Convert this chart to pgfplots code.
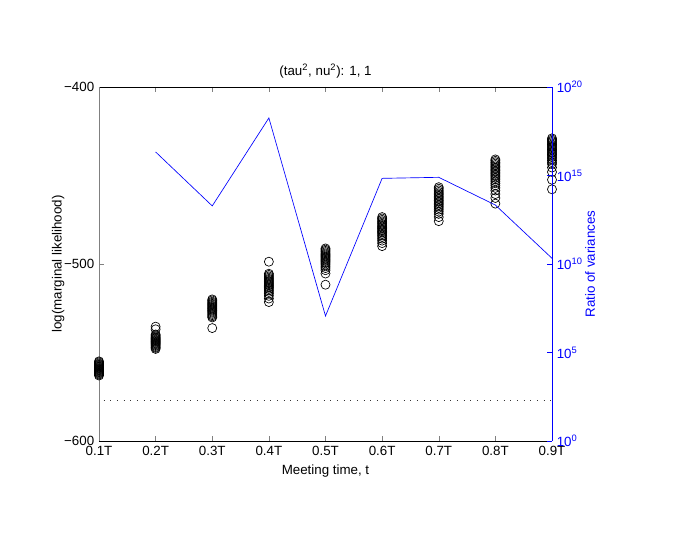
\documentclass[border=0pt]{standalone}
\usepackage{pgfplots}
\pgfplotsset{compat=1.18}
\usepackage{fontspec}
\setmainfont{Liberation Sans}

% log marginal likelihood, several runs per meeting time
\pgfplotstableread{
t y
1 -555.0
1 -555.5
1 -556.1
1 -556.6
1 -557.0
1 -557.4
1 -557.8
1 -558.1
1 -558.5
1 -558.9
1 -559.2
1 -559.6
1 -560.0
1 -560.3
1 -560.7
1 -561.1
1 -561.5
1 -562.0
1 -562.5
1 -563.0
2 -535.4
2 -536.9
2 -539.8
2 -540.3
2 -540.9
2 -541.4
2 -541.9
2 -542.3
2 -542.8
2 -543.2
2 -543.6
2 -544.0
2 -544.5
2 -544.9
2 -545.3
2 -545.8
2 -546.3
2 -546.9
2 -547.4
2 -548.0
3 -520.0
3 -520.6
3 -521.3
3 -521.9
3 -522.5
3 -523.0
3 -523.6
3 -524.1
3 -524.7
3 -525.2
3 -525.8
3 -526.3
3 -526.9
3 -527.5
3 -528.2
3 -528.9
3 -529.6
3 -530.2
3 -536.2
4 -498.7
4 -505.5
4 -506.2
4 -507.0
4 -507.7
4 -508.4
4 -509.0
4 -509.6
4 -510.2
4 -510.8
4 -511.4
4 -512.0
4 -512.7
4 -513.4
4 -514.1
4 -514.9
4 -515.8
4 -516.8
4 -518.0
4 -519.5
4 -521.5
5 -491.2
5 -491.9
5 -492.6
5 -493.3
5 -494.0
5 -494.6
5 -495.2
5 -495.8
5 -496.4
5 -497.0
5 -497.6
5 -498.2
5 -498.9
5 -499.6
5 -500.4
5 -501.3
5 -502.3
5 -503.5
5 -505.4
5 -511.7
6 -473.5
6 -474.3
6 -475.1
6 -475.9
6 -476.6
6 -477.3
6 -478.0
6 -478.7
6 -479.4
6 -480.1
6 -480.8
6 -481.5
6 -482.2
6 -483.0
6 -483.8
6 -484.7
6 -485.7
6 -486.8
6 -488.2
6 -489.9
7 -456.6
7 -457.5
7 -458.4
7 -459.3
7 -460.1
7 -460.9
7 -461.7
7 -462.5
7 -463.3
7 -464.1
7 -464.9
7 -465.7
7 -466.5
7 -467.4
7 -468.3
7 -469.3
7 -470.4
7 -471.7
7 -473.5
7 -475.8
8 -440.9
8 -441.7
8 -442.5
8 -443.3
8 -444.1
8 -444.9
8 -445.7
8 -446.5
8 -447.3
8 -448.1
8 -448.9
8 -449.7
8 -450.5
8 -451.4
8 -452.3
8 -453.3
8 -454.4
8 -455.6
8 -457.0
8 -458.5
8 -460.5
8 -462.7
8 -465.9
9 -429.0
9 -429.7
9 -430.4
9 -431.1
9 -431.8
9 -432.5
9 -433.2
9 -433.9
9 -434.6
9 -435.3
9 -436.0
9 -436.7
9 -437.4
9 -438.1
9 -438.9
9 -439.7
9 -440.6
9 -441.5
9 -442.5
9 -443.5
9 -445.5
9 -448.0
9 -452.4
9 -457.8
}\loglik

\begin{document}
\begin{tikzpicture}[x=1pt,y=1pt]
\path (-74.25,-75.75) rectangle (443.25,330.75);
\begin{axis}[
    at={(0,0)}, anchor=south west,
    scale only axis, width=339.75pt, height=265.5pt,
    xmin=1, xmax=9, ymin=-600, ymax=-400,
    xtick={1,...,9},
    xticklabels={0.1T,0.2T,0.3T,0.4T,0.5T,0.6T,0.7T,0.8T,0.9T},
    ytick={-600,-500,-400},
    yticklabels={−600,−500,−400},
    axis x line*=box, axis y line*=left,
    y axis line style={draw=gray},
    tick align=inside, major tick length=3.5pt,
    xlabel={Meeting time, t},
    ylabel={log(marginal likelihood)},
    ylabel shift=-7pt,
    title={(tau\textsuperscript{2}, nu\textsuperscript{2}): 1, 1},
    title style={yshift=-3pt},
    clip=false,
    line width=0.5pt,
]
\addplot[black!80, line width=0.5pt, dash pattern=on 0.6pt off 4.4pt] coordinates {(1.08,-576.8) (9,-576.8)};
\addplot[only marks, mark=o, mark size=3.4pt, black, mark options={line width=0.5pt}] table[x=t, y=y] {\loglik};
\end{axis}
\begin{axis}[
    at={(0,0)}, anchor=south west,
    scale only axis, width=339.75pt, height=265.5pt,
    xmin=1, xmax=9, ymode=log, ymin=1, ymax=1e20,
    axis x line=none, axis y line*=right,
    ytick={1,1e5,1e10,1e15,1e20},
    yticklabels={10\textsuperscript{0},10\textsuperscript{5},10\textsuperscript{10},10\textsuperscript{15},10\textsuperscript{20}},
    yminorticks=false,
    tick align=inside, major tick length=3.5pt,
    y axis line style={blue}, ytick style={blue},
    yticklabel style={blue}, ylabel style={blue},
    ylabel={Ratio of variances},
    ylabel shift=-5pt,
    line width=0.5pt,
]
\addplot[blue, line width=0.5pt, mark=none] coordinates {
    (2,2.14e16) (3,1.91e13) (4,1.78e18) (5,1.15e7) (6,6.9e14) (7,7.9e14) (8,2.14e13) (9,2.1e10)
};
\end{axis}
\end{tikzpicture}
\end{document}
